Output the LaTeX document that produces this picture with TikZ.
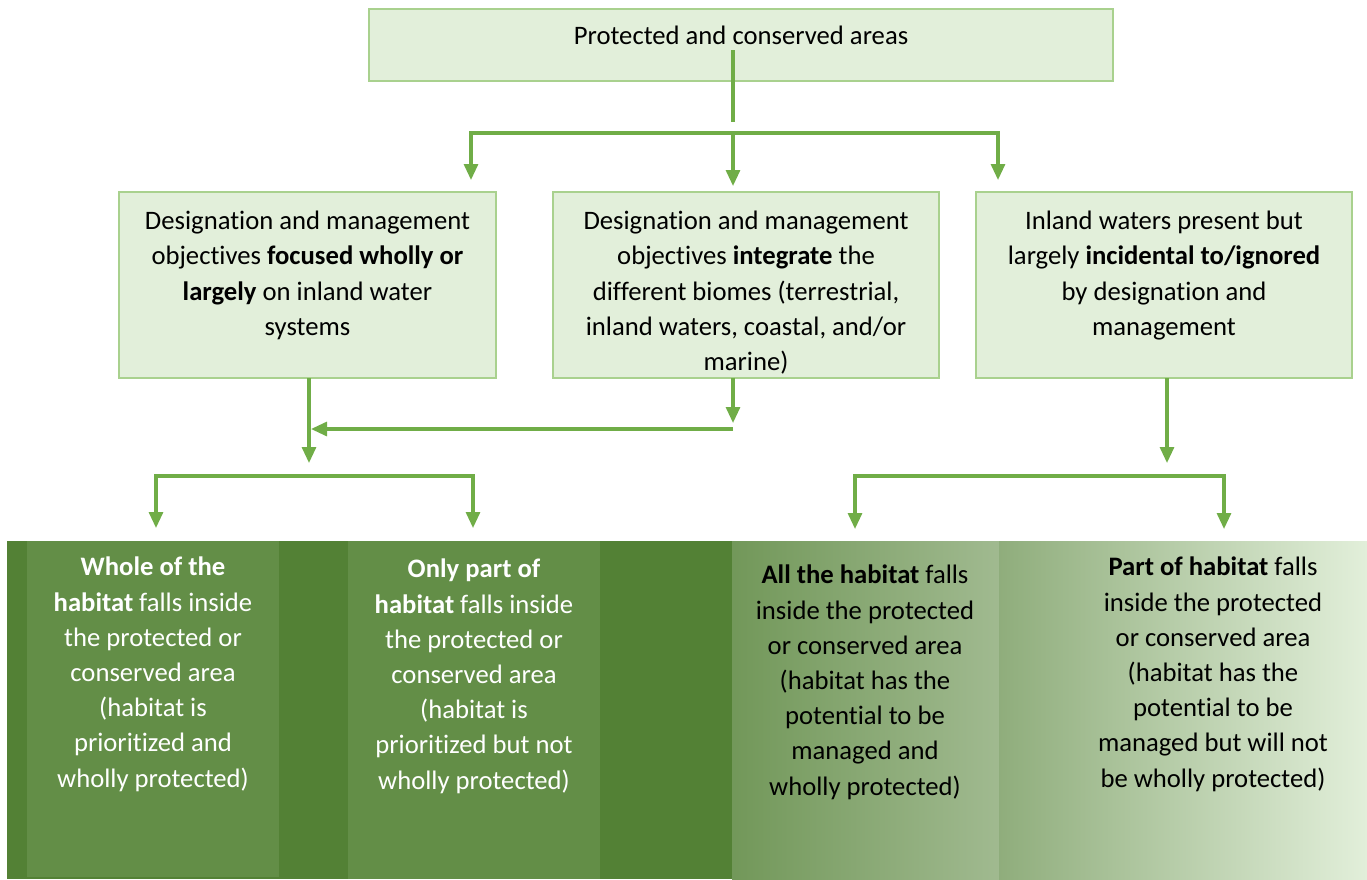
\documentclass[tikz,border=0pt]{standalone}
\usepackage{fontspec}
\setmainfont{Carlito}[Ligatures=NoCommon]
\usetikzlibrary{arrows.meta}
\definecolor{flowgreen}{HTML}{70AD47}
\definecolor{boxfill}{HTML}{E2EFDA}
\definecolor{boxline}{HTML}{A9D18E}
\definecolor{banddark}{HTML}{538135}
\definecolor{bandmid}{HTML}{638E47}
\begin{document}
\begin{tikzpicture}[x=0.75pt,y=-0.75pt,
  flow/.style={draw=flowgreen,line width=2.3pt},
  arr/.style={flow,-{Triangle[width=10.5pt,length=12pt]}},
  pbox/.style={draw=boxline,fill=boxfill,line width=1.2pt,minimum height=139.5pt,inner sep=0pt},
  ptext/.style={anchor=north,align=center,inner sep=0pt,font=\fontsize{20}{26.4}\selectfont}]
  \useasboundingbox (0,0) rectangle (1367,879);
  % top and middle row
  \node [pbox,minimum width=558pt,minimum height=54pt] (top) at (741,45) {};
  \node [anchor=base,inner sep=0pt,font=\fontsize{20}{26.4}\selectfont] (toptext) at (741,44) {Protected and conserved areas};
  \node [pbox,minimum width=282.75pt] (objA) at (307.5,285) {};
  \node [pbox,minimum width=289.5pt] (objB) at (746,285) {};
  \node [pbox,minimum width=282pt] (objC) at (1164,285) {};
  \node [ptext] (objAtext) at (307.5,211) {Designation and management\\ objectives \textbf{focused wholly or}\\ \textbf{largely} on inland water\\ systems};
  \node [ptext] (objBtext) at (746,211) {Designation and management\\ objectives \textbf{integrate} the\\ different biomes (terrestrial,\\ inland waters, coastal, and/or\\ marine)};
  \node [ptext] (objCtext) at (1164,211) {Inland waters present but\\ largely \textbf{incidental to/ignored}\\ by designation and\\ management};
  % bottom band
  \fill [banddark] (7,541) rectangle (1367,879);
  \fill [bandmid] (27,541) rectangle (279,877);
  \fill [bandmid] (348,541) rectangle (600,879);
  \shade [left color=banddark!82!white,right color=banddark!55!white] (732,541) rectangle (999,879);
  \shade [left color=banddark!65!white,right color=boxfill] (999,541) rectangle (1367,879);
  \node [ptext,text=white] (hab1) at (153,557) {\textbf{Whole of the}\\ \textbf{habitat} falls inside\\ the protected or\\ conserved area\\ (habitat is\\ prioritized and\\ wholly protected)};
  \node [ptext,text=white] (hab2) at (474,559) {\textbf{Only part of}\\ \textbf{habitat} falls inside\\ the protected or\\ conserved area\\ (habitat is\\ prioritized but not\\ wholly protected)};
  \node [ptext] (hab3) at (865,565) {\textbf{All the habitat} falls\\ inside the protected\\ or conserved area\\ (habitat has the\\ potential to be\\ managed and\\ wholly protected)};
  \node [ptext] (hab4) at (1213,557) {\textbf{Part of habitat} falls\\ inside the protected\\ or conserved area\\ (habitat has the\\ potential to be\\ managed but will not\\ be wholly protected)};
  % connectors
  \coordinate (s0) at (733,50);
  \coordinate (s1) at (733,122);
  \coordinate (b1) at (471,133);
  \coordinate (b2) at (733,133);
  \coordinate (b3) at (998,133);
  \coordinate (p1) at (471,180);
  \coordinate (p2) at (733,186);
  \coordinate (p3) at (998,180);
  \draw [flow] (s0) -- (s1);
  \draw [arr] (b3) -- (b1) -- (p1);
  \draw [arr] (b1) -- (b3) -- (p3);
  \draw [arr] (b2) -- (p2);
  \coordinate (a1) at (309,378);
  \coordinate (a2) at (309,463);
  \coordinate (k0) at (733,378);
  \coordinate (k1) at (733,423);
  \coordinate (k2) at (733,429);
  \coordinate (k3) at (311,429);
  \coordinate (c0) at (1167,378);
  \coordinate (c1) at (1167,463);
  \draw [arr] (a1) -- (a2);
  \draw [arr] (k0) -- (k1);
  \draw [arr] (k2) -- (k3);
  \draw [arr] (c0) -- (c1);
  \coordinate (l1) at (156,476);
  \coordinate (l2) at (473,476);
  \coordinate (q1) at (156,528);
  \coordinate (q2) at (473,528);
  \coordinate (r1) at (855,476);
  \coordinate (r2) at (1224,476);
  \coordinate (u1) at (855,529);
  \coordinate (u2) at (1224,529);
  \draw [arr] (l2) -- (l1) -- (q1);
  \draw [arr] (l1) -- (l2) -- (q2);
  \draw [arr] (r2) -- (r1) -- (u1);
  \draw [arr] (r1) -- (r2) -- (u2);
\end{tikzpicture}
\end{document}
